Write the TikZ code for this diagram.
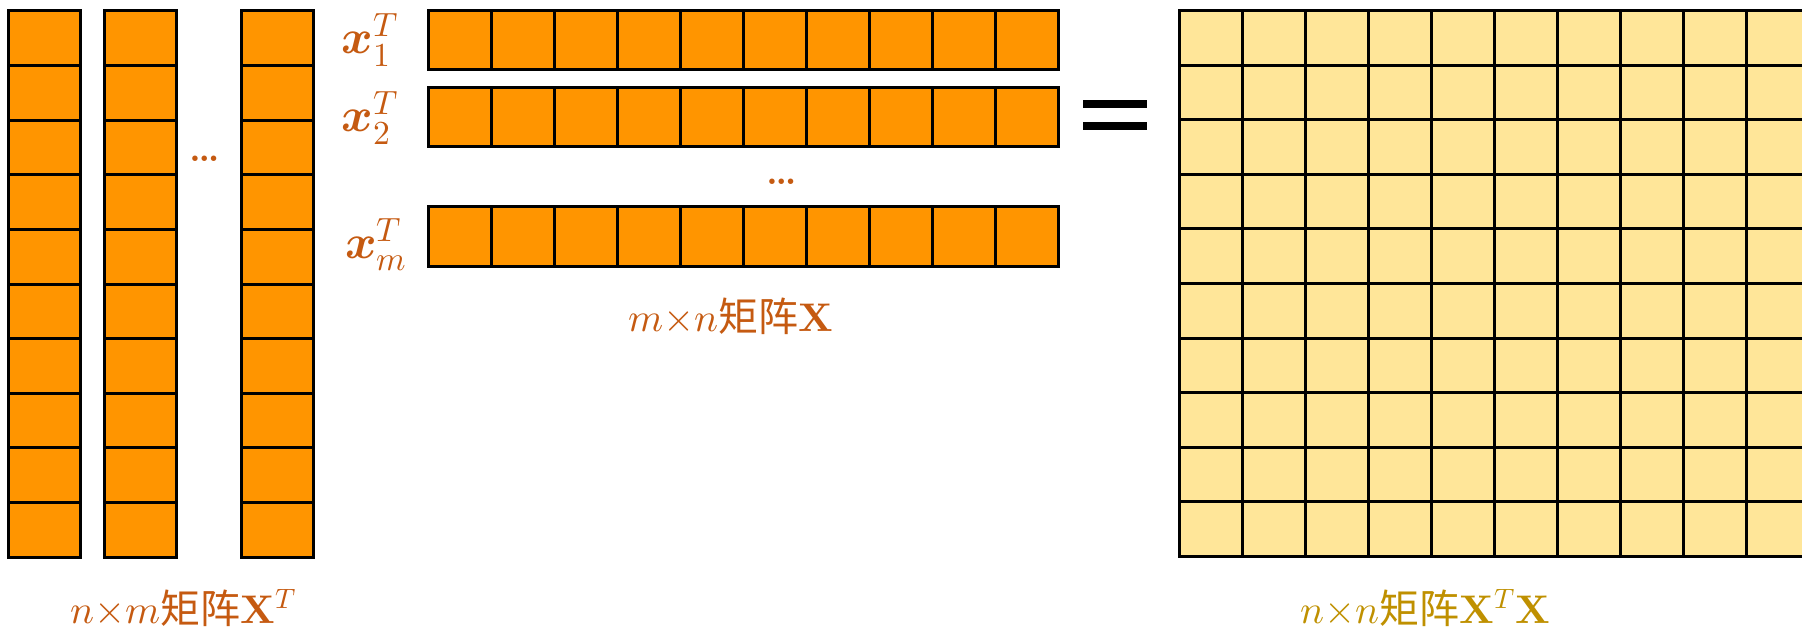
\documentclass[tikz,border=0pt]{standalone}
\usepackage{fontspec}
\usepackage{unicode-math}
\setmathfont{Latin Modern Math}
\newfontfamily\cjk{Noto Sans CJK SC}
\definecolor{cellorange}{HTML}{FF9500}
\definecolor{cellyellow}{HTML}{FFE699}
\definecolor{lbl}{HTML}{C55A11}
\definecolor{lblgold}{HTML}{BF9000}
\begin{document}
\begin{tikzpicture}[x=1pt,y=-1pt,
  ocell/.style={draw=black,fill=cellorange,line width=3pt},
  ycell/.style={draw=black,fill=cellyellow,line width=3pt},
  vlabel/.style={text=lbl,font=\fontsize{48}{52}\selectfont,inner sep=0pt},
  mlabel/.style={text=lbl,font=\fontsize{40}{46}\selectfont,inner sep=0pt},
  dotlabel/.style={text=lbl,font=\fontsize{38}{42}\selectfont\bfseries,inner sep=0pt}]
\useasboundingbox (0,0) rectangle (1802,631);
\clip (0,0) rectangle (1802,631);
% columns of X^T
\foreach \cx in {8,104,241} {
  \foreach \r in {0,...,9} {
    \draw[ocell] (\cx,{11+\r*54.6}) rectangle ++(72,54.6);
  }
}
\node[dotlabel] (cdots) at (205,159) {\dots};
% rows of X
\foreach \ry in {11,88,207} {
  \foreach \c in {0,...,9} {
    \draw[ocell] ({428+\c*63},\ry) rectangle ++(63,59);
  }
}
\node[vlabel] (x1) at (370,40) {$\symbfit{x}_1^T$};
\node[vlabel] (x2) at (370,118) {$\symbfit{x}_2^T$};
\node[vlabel] (xm) at (376,245) {$\symbfit{x}_m^T$};
\node[dotlabel] (rdots) at (782,182) {\dots};
\node[mlabel] (lx) at (731,316) {$m{\times}n$\cjk 矩阵$\symbfup{X}$};
% equals sign
\fill[black] (1083,100) rectangle (1147,108);
\fill[black] (1083,122) rectangle (1147,130);
% result grid
\foreach \r in {0,...,9} {
  \foreach \c in {0,...,9} {
    \draw[ycell] ({1179+\c*63},{11+\r*54.5}) rectangle ++(63,54.5);
  }
}
\node[mlabel] (lxt) at (183,608) {$n{\times}m$\cjk 矩阵$\symbfup{X}^T$};
\node[mlabel,text=lblgold] (lxtx) at (1425,608) {$n{\times}n$\cjk 矩阵$\symbfup{X}^T\symbfup{X}$};
\end{tikzpicture}
\end{document}
